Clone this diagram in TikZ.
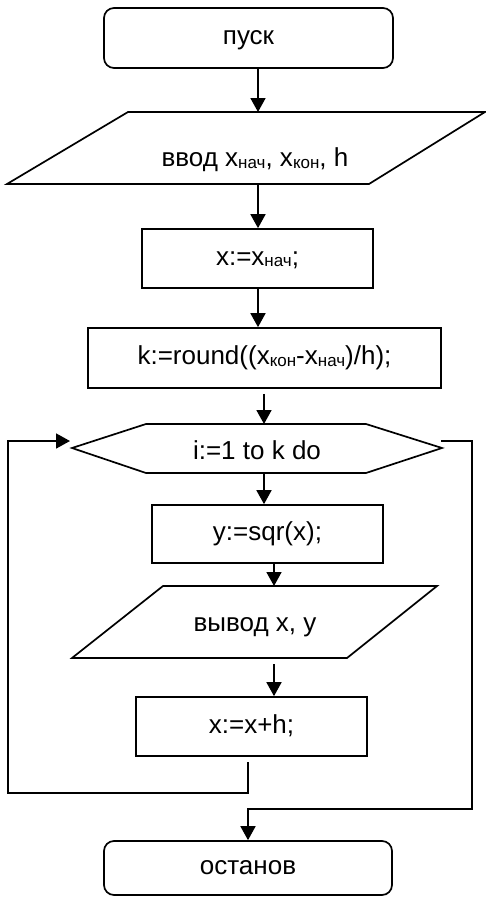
\documentclass[tikz,border=0pt]{standalone}
\usepackage{fontspec}
\setmainfont{Liberation Sans}
\usetikzlibrary{arrows.meta}
\newcommand\lo[1]{\raisebox{-1.5pt}{\fontsize{17}{17}\selectfont #1}}
\begin{document}
\begin{tikzpicture}[x=1pt,y=-1pt,
  every node/.style={font=\fontsize{26}{30}\selectfont, text height=13pt, text depth=0pt, inner sep=0pt},
  box/.style={draw, line width=1.7pt, minimum width=231pt, minimum height=59pt},
  term/.style={box, rounded corners=10pt},
  shp/.style={draw, line width=1.7pt, line join=miter},
  arr/.style={line width=1.7pt, -{Triangle[length=14pt,width=15pt]}},
  lin/.style={line width=1.7pt}]
\useasboundingbox (0,0) rectangle (486,897);

% nodes
\node[term, minimum width=289pt, minimum height=60pt] (start) at (248.5,38) {пуск};
\draw[shp] (128,112) -- (485,112) -- (369,184) -- (7,184) -- cycle;
\node (in) at (255,160) {ввод x\lo{нач}, x\lo{кон}, h};
\coordinate (inT) at (258,112);
\coordinate (inB) at (258,184);
\node[box] (x0) at (257.5,258.5) {x:=x\lo{нач};};
\node[box, minimum width=353pt, minimum height=60pt] (k) at (264.5,358) {k:=round((x\lo{кон}-x\lo{нач})/h);};
\draw[shp] (72,448) -- (146,424) -- (366,424) -- (442,448) -- (366,473) -- (146,473) -- cycle;
\node (hex) at (257,453) {i:=1 to k do};
\coordinate (hexT) at (264,424);
\coordinate (hexB) at (264,473);
\coordinate (loopIn) at (70,441);
\coordinate (exitOut) at (441,441);
\node[box, minimum height=58pt] (ysq) at (267.5,534) {y:=sqr(x);};
\draw[shp] (163,586) -- (437,586) -- (347,658) -- (72,658) -- cycle;
\node (out) at (255,625) {вывод x, y};
\coordinate (outT) at (274,586);
\coordinate (outB) at (274,664);
\node[box] (xh) at (251.5,726.5) {x:=x+h;};
\coordinate (xhB) at (248,762);
\node[term, minimum width=288pt, minimum height=54pt] (stop) at (248,868) {останов};

% connectors
\draw[arr] (start.south -| inT) -- (inT);
\draw[arr] (inB) -- (inB |- x0.north);
\draw[arr] (x0.south -| inB) -- (inB |- k.north);
\draw[arr] ([yshift=-5pt]k.south -| hexT) -- (hexT);
\draw[arr] (hexB) -- (hexB |- ysq.north);
\draw[arr] (ysq.south -| outT) -- (outT);
\draw[arr] (outB) -- (outB |- xh.north);
\draw[arr] (xhB) -- (248,793) -- (8,793) -- (8,441) -- (loopIn);
\draw[arr] (exitOut) -- (472,441) -- (472,809) -- (248,809) -- (stop.north);
\end{tikzpicture}
\end{document}
